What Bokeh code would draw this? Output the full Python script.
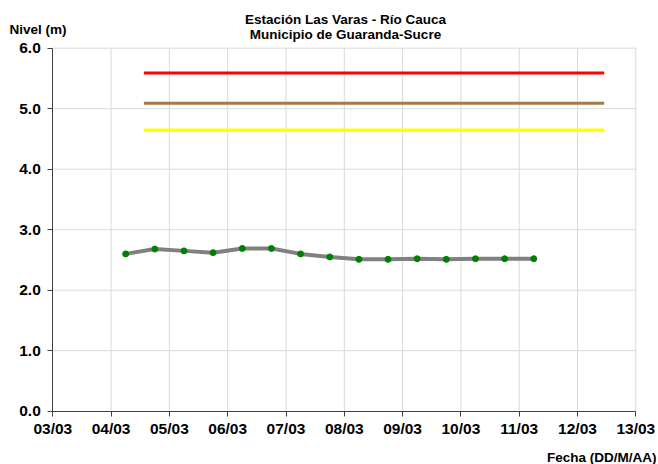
import pandas as pd
from bokeh.plotting import figure
from bokeh.models import (Range1d, FixedTicker, NumeralTickFormatter, Label,
                          DatetimeTickFormatter, ColumnDataSource)
from bokeh.embed import file_html
from bokeh.resources import INLINE

# ---------------- data ----------------
times = ["2021-03-04 06:00", "2021-03-04 18:00", "2021-03-05 06:00", "2021-03-05 18:00",
         "2021-03-06 06:00", "2021-03-06 18:00", "2021-03-07 06:00", "2021-03-07 18:00",
         "2021-03-08 06:00", "2021-03-08 18:00", "2021-03-09 06:00", "2021-03-09 18:00",
         "2021-03-10 06:00", "2021-03-10 18:00", "2021-03-11 06:00"]
nivel = [2.60, 2.68, 2.65, 2.62, 2.69, 2.69, 2.60, 2.55, 2.51, 2.51,
         2.52, 2.51, 2.52, 2.52, 2.52]

umbral_times = ["2021-03-04 13:30", "2021-03-12 11:00"]
umbral_rojo = [5.59, 5.59]
umbral_naranja = [5.09, 5.09]
umbral_amarillo = [4.65, 4.65]

day_ticks = pd.date_range("2021-03-03", "2021-03-13", freq="D")
y_ticks = [0, 1, 2, 3, 4, 5, 6]

titulo_1 = "Estación Las Varas - Río Cauca"
titulo_2 = "Municipio de Guaranda-Sucre"
etiqueta_y = "Nivel (m)"
etiqueta_x = "Fecha (DD/M/AA)"

# ---------------- layout ----------------
W, H = 658, 464
X0, X_DAY = 52.3, 58.3        # pixel of first day tick, pixels per day
Y0, Y_UNIT = 410.7, 60.5      # pixel of y=0 (from top), pixels per unit
FONT = "Liberation Sans"
DAY_MS = 86400000

tick_ms = [d.value // 10**6 for d in day_ticks]
t = pd.to_datetime(times)
ut = pd.to_datetime(umbral_times)

x_start = tick_ms[0] - X0 / X_DAY * DAY_MS
x_end = tick_ms[0] + (W - X0) / X_DAY * DAY_MS
y_start = -(H - Y0) / Y_UNIT
y_end = Y0 / Y_UNIT

p = figure(width=W, height=H, output_backend="svg", toolbar_location=None,
           x_axis_type="datetime",
           x_range=Range1d(x_start, x_end), y_range=Range1d(y_start, y_end),
           min_border=0)
p.outline_line_color = None
p.background_fill_color = "white"
p.border_fill_color = "white"
p.grid.visible = False

# grid lines (from tick arrays)
n_x = len(tick_ms)
p.segment(x0=tick_ms[1:], y0=[y_ticks[0]] * (n_x - 1), x1=tick_ms[1:], y1=[y_ticks[-1]] * (n_x - 1),
          line_color="#D9D9D9", line_width=1)
p.segment(x0=[tick_ms[0]] * (len(y_ticks) - 1), y0=y_ticks[1:],
          x1=[tick_ms[-1]] * (len(y_ticks) - 1), y1=y_ticks[1:],
          line_color="#D9D9D9", line_width=1)

# thresholds
p.line(ut, umbral_rojo, line_color="#FF0000", line_width=3)
p.line(ut, umbral_naranja, line_color="#A6784B", line_width=3)
p.line(ut, umbral_amarillo, line_color="#FFFF00", line_width=3)

# series
src = ColumnDataSource(dict(t=t, v=nivel))
p.line("t", "v", source=src, line_color="#808080", line_width=4, line_join="round")
p.scatter("t", "v", source=src, size=6, fill_color="#008000", line_color="#008000")

# axes
for ax in (p.xaxis[0], p.yaxis[0]):
    ax.axis_line_color = "#404040"
    ax.major_tick_line_color = "#404040"
    ax.major_tick_out = 5
    ax.major_tick_in = 0
    ax.minor_tick_line_color = None
    ax.major_label_text_font = FONT
    ax.major_label_text_font_style = "bold"
    ax.major_label_text_font_size = "15.5px"
    ax.major_label_text_color = "black"

p.xaxis.fixed_location = 0
p.xaxis.bounds = (tick_ms[0], tick_ms[-1])
p.xaxis.ticker = FixedTicker(ticks=tick_ms)
p.xaxis.formatter = DatetimeTickFormatter(days="%d/%m", months="%d/%m", hours="%d/%m")
p.xaxis.major_label_standoff = 4

p.yaxis.fixed_location = tick_ms[0]
p.yaxis.bounds = (y_ticks[0], y_ticks[-1])
p.yaxis.ticker = FixedTicker(ticks=y_ticks)
p.yaxis.formatter = NumeralTickFormatter(format="0.0")
p.yaxis.major_label_standoff = 7


def lbl(text, x, y, align):
    p.add_layout(Label(x=x, y=y, x_units="screen", y_units="screen", text=text,
                       text_align=align, text_baseline="alphabetic",
                       text_font=FONT, text_font_style="bold",
                       text_font_size="13.5px", text_color="black"))


lbl(titulo_1, 345, H - 18.5, "center")
lbl(titulo_2, 345, H - 34, "center")
lbl(etiqueta_y, 9, H - 29, "left")
lbl(etiqueta_x, 656, H - 456.5, "right")

open("out.html", "w").write(file_html(p, INLINE))
